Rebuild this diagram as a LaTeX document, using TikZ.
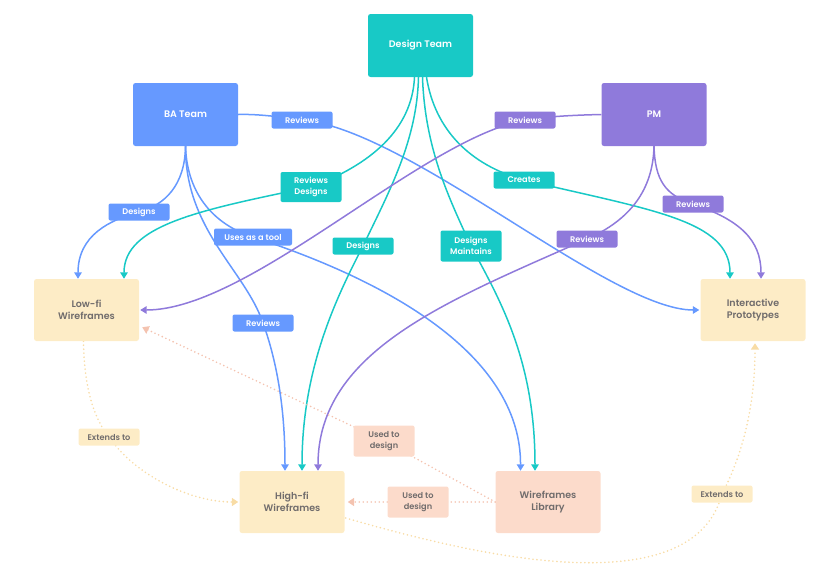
\documentclass[tikz,border=0pt]{standalone}
\usepackage{fontspec}
\setmainfont{Poppins}[UprightFont=* Medium, BoldFont=* SemiBold]
\usetikzlibrary{arrows.meta,calc}
\definecolor{tealC}{RGB}{24,201,198}
\definecolor{blueC}{RGB}{102,153,255}
\definecolor{purpC}{RGB}{143,122,219}
\definecolor{yelF}{RGB}{253,236,198}
\definecolor{yelL}{RGB}{248,220,165}
\definecolor{peachF}{RGB}{252,219,203}
\definecolor{peachL}{RGB}{244,195,176}
\definecolor{grayT}{RGB}{112,108,108}
\pgfdeclarelayer{bg}
\pgfsetlayers{bg,main}
\tikzset{
  team/.style={rectangle, rounded corners=2.5pt, minimum width=105pt, minimum height=63pt, inner sep=0pt, text=white, font=\fontsize{9.5}{11}\selectfont\bfseries, align=center},
  art/.style={rectangle, rounded corners=2.5pt, minimum width=105pt, minimum height=62pt, inner sep=0pt, text=grayT, font=\fontsize{9.5}{12}\selectfont\bfseries, align=center},
  lbl/.style={rectangle, rounded corners=2pt, minimum width=61pt, minimum height=17pt, inner sep=1pt, text=white, font=\fontsize{8.2}{10.8}\selectfont\bfseries, align=center},
  lblg/.style={lbl, text=grayT},
  conn/.style={line width=1.5pt, -{Triangle[width=7.5pt,length=6.5pt]}},
  dotl/.style={line width=1.8pt, line cap=round, dash pattern=on 0pt off 4pt, -{Triangle[width=8pt,length=6.5pt]}},
}
\begin{document}
\begin{tikzpicture}[x=1pt,y=-1pt]
\useasboundingbox (0,0) rectangle (840,581);
% main nodes
\node[team, fill=tealC] (dt) at (420.5,45.5) {Design Team};
\node[team, fill=blueC] (ba) at (185.5,114.5) {BA Team};
\node[team, fill=purpC] (pm) at (654,114.5) {PM};
\node[art, fill=yelF] (lofi) at (86.5,310) {Low-fi\\Wireframes};
\node[art, fill=yelF] (ip) at (753,310) {Interactive\\Prototypes};
\node[art, fill=yelF] (hifi) at (292,502) {High-fi\\Wireframes};
\node[art, fill=peachF] (lib) at (548,502) {Wireframes\\Library};
% labels
\node[lbl, fill=blueC] (l1) at (302,120) {Reviews};
\node[lbl, fill=tealC, minimum height=30pt] (l2) at (311,187) {Reviews\\Designs};
\node[lbl, fill=blueC] (l3) at (139,212) {Designs};
\node[lbl, fill=blueC, minimum width=78pt] (l4) at (253,237) {Uses as a tool};
\node[lbl, fill=tealC] (l5) at (363,246) {Designs};
\node[lbl, fill=blueC] (l6) at (263,323) {Reviews};
\node[lbl, fill=purpC] (l7) at (525,120) {Reviews};
\node[lbl, fill=tealC] (l8) at (524,180) {Creates};
\node[lbl, fill=tealC, minimum height=31pt] (l9) at (471,246) {Designs\\Maintains};
\node[lbl, fill=purpC] (l10) at (693,204) {Reviews};
\node[lbl, fill=purpC] (l11) at (587,239) {Reviews};
\node[lblg, fill=yelF] (l12) at (109,437) {Extends to};
\node[lblg, fill=peachF, minimum height=31pt] (l13) at (384,441) {Used to\\design};
\node[lblg, fill=peachF, minimum height=31pt] (l14) at (418,502) {Used to\\design};
\node[lblg, fill=yelF] (l15) at (722,494) {Extends to};
% end points
\coordinate (dtA) at ($(dt.south)+(-6,0)$);
\coordinate (dtB) at ($(dt.south)+(-2,0)$);
\coordinate (dtC) at ($(dt.south)+(2,0)$);
\coordinate (dtD) at ($(dt.south)+(6,0)$);
\coordinate (lofiA) at ($(lofi.north)+(-8.5,0)$);
\coordinate (lofiB) at ($(lofi.north)+(37.5,0)$);
\coordinate (lofiC) at ($(lofi.south)+(-3,0)$);
\coordinate (lofiD) at ($(lofi.south east)+(3,-14)$);
\coordinate (hifiA) at ($(hifi.north)+(-7,0)$);
\coordinate (hifiB) at ($(hifi.north)+(10,0)$);
\coordinate (hifiC) at ($(hifi.north)+(26,0)$);
\coordinate (hifiE) at ($(hifi.east)+(3,0)$);
\coordinate (hifiF) at ($(hifi.east)+(1,16)$);
\coordinate (libA) at ($(lib.north)+(-27.5,0)$);
\coordinate (libB) at ($(lib.north)+(-13,0)$);
\coordinate (ipA) at ($(ip.north)+(-23,0)$);
\coordinate (ipB) at ($(ip.north)+(8,0)$);
\coordinate (ipC) at ($(ip.south)+(2,2)$);
\coordinate (ipW) at ($(ip.west)+(-1,0)$);
\coordinate (lofiE) at ($(lofi.east)+(1,0)$);
\coordinate (hifiW) at ($(hifi.west)+(-1,0)$);
\begin{pgfonlayer}{bg}
% BA Team
\draw[conn, blueC] (ba.south) .. controls (185,185) and (165,205) .. (l3.center) .. controls (110,220) and (78,235) .. (lofiA);
\draw[conn, blueC] (ba.south) .. controls (185,230) and (245,270) .. (l6.center) .. controls (280,370) and (285,420) .. (hifiA);
\draw[conn, blueC] (ba.south) .. controls (187,195) and (215,225) .. (l4.center) .. controls (400,285) and (521,360) .. (libA);
\draw[conn, blueC] (ba.east) .. controls (255,114) and (275,116) .. (l1.center) .. controls (410,130) and (610,310) .. (ipW);
% Design Team
\draw[conn, tealC] (dtA) .. controls (412,130) and (370,165) .. (l2.center) .. controls (200,210) and (124,225) .. (lofiB);
\draw[conn, tealC] (dtB) .. controls (417,140) and (390,190) .. (l5.center) .. controls (335,300) and (302,370) .. (hifiB);
\draw[conn, tealC] (dtC) .. controls (425,150) and (450,200) .. (l9.center) .. controls (500,300) and (535,360) .. (libB);
\draw[conn, tealC] (dtD) .. controls (435,130) and (470,165) .. (l8.center) .. controls (650,210) and (730,220) .. (ipA);
% PM
\draw[conn, purpC] (pm.west) .. controls (580,115) and (550,116) .. (l7.center) .. controls (420,140) and (250,310) .. (lofiE);
\draw[conn, purpC] (pm.south) .. controls (655,180) and (665,195) .. (l10.center) .. controls (740,220) and (761,240) .. (ipB);
\draw[conn, purpC] (pm.south) .. controls (653,190) and (630,220) .. (l11.center) .. controls (450,300) and (318,350) .. (hifiC);
% dotted
\draw[dotl, yelL] (lofiC) .. controls (84,390) and (95,420) .. (l12.center) .. controls (135,475) and (190,502) .. (hifiW);
\draw[dotl, peachL] (lib.west) -- (l13.center) -- (lofiD);
\draw[dotl, peachL] (lib.west) -- (l14.center) -- (hifiE);
\draw[dotl, yelL] (hifiF) .. controls (440,545) and (690,615) .. (l15.center) .. controls (745,450) and (755,400) .. (ipC);
\end{pgfonlayer}
\end{tikzpicture}
\end{document}
